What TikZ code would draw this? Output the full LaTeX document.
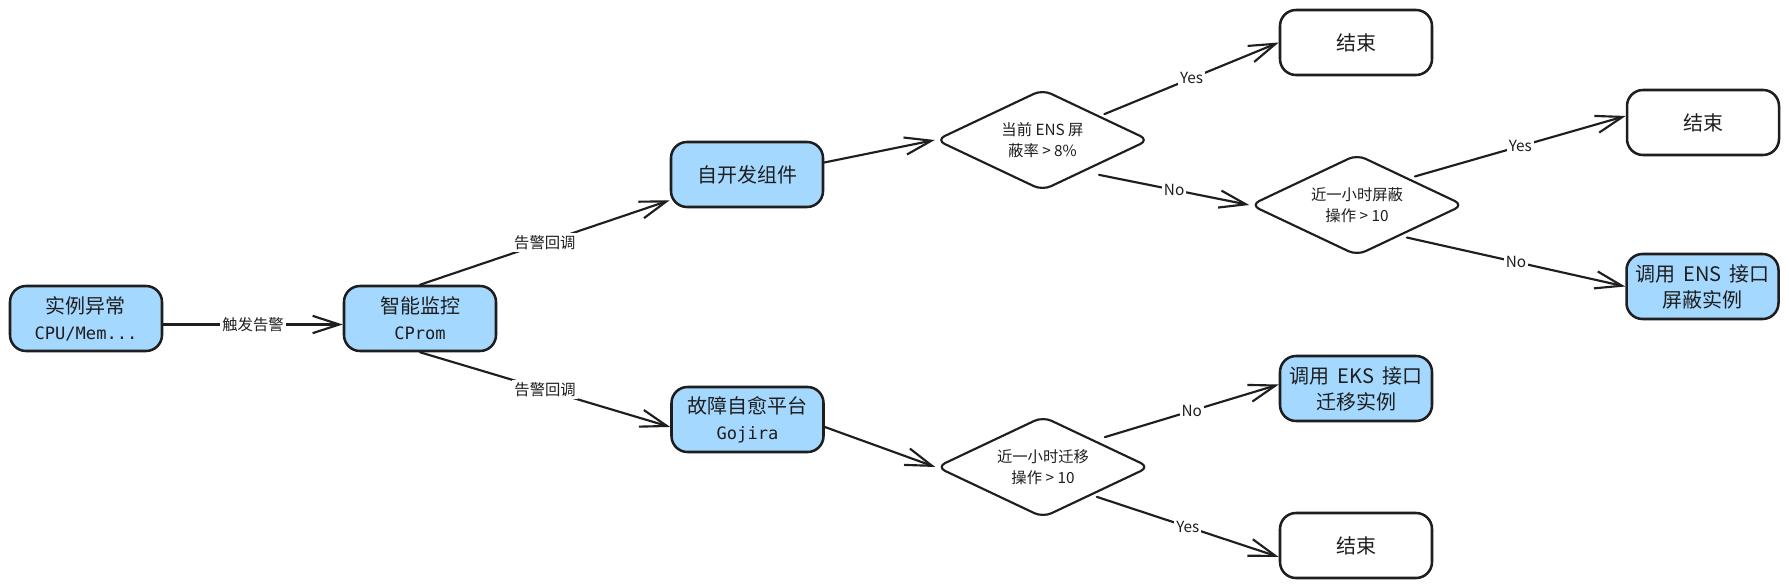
\documentclass[tikz,border=0pt]{standalone}
\usepackage{fontspec}
\setmainfont{Noto Sans CJK SC}
\newfontfamily\monof{DejaVu Sans Mono}
\usetikzlibrary{arrows.meta,shapes.geometric}
\definecolor{ink}{HTML}{1E1E1E}
\definecolor{lblue}{HTML}{A5D8FF}
\tikzset{
  x=0.75pt, y=-0.75pt,
  box/.style={draw=ink, line width=1.9pt, rounded corners=12pt, minimum width=114pt,
    minimum height=48.75pt, align=center, inner sep=2pt,
    font=\fontsize{15pt}{19.5pt}\selectfont, text=ink},
  bluebox/.style={box, fill=lblue},
  endbox/.style={box},
  decide/.style={draw=ink, line width=1.6pt, shape=diamond, aspect=2, rounded corners=7pt,
    inner sep=0pt, minimum width=160pt, minimum height=76pt, align=center,
    font=\fontsize{11.5pt}{15.6pt}\selectfont, text=ink},
  conn/.style={draw=ink, line width=1.6pt, line cap=round,
    -{Straight Barb[length=20pt, width=13pt, line width=1.6pt]}},
  lbl/.style={fill=white, inner sep=1.5pt, text=ink, font=\fontsize{11.5pt}{13pt}\selectfont},
  mono/.style={},
}
\newcommand{\mtext}[1]{{\monof\fontsize{12.8pt}{19.5pt}\selectfont #1}}
\begin{document}
\begin{tikzpicture}
\fill[white] (0,0) rectangle (1789,588);
\useasboundingbox (0,0) rectangle (1789,588);

\node[bluebox] (e1) at (86,318.5) {实例异常\\\mtext{CPU/Mem...}};
\node[bluebox] (e2) at (420,318.5) {智能监控\\\mtext{CProm}};
\node[bluebox] (self) at (747,174.5) {自开发组件};
\node[bluebox] (gj) at (747.5,419.5) {故障自愈平台\\\mtext{Gojira}};

\node[decide] (d1) at (1042.5,140) {当前 ENS 屏\\蔽率 > 8\%};
\node[decide] (d2) at (1357,205) {近一小时屏蔽\\操作 > 10};
\node[decide] (d3) at (1043,467) {近一小时迁移\\操作 > 10};

\node[endbox] (end1) at (1356,42.5) {结束};
\node[endbox] (end2) at (1703,122.5) {结束};
\node[bluebox] (ens) at (1702.5,286.5) {调用 \,ENS\, 接口\\屏蔽实例};
\node[bluebox] (eks) at (1356,388.5) {调用 \,EKS\, 接口\\迁移实例};
\node[endbox] (end3) at (1356,545.5) {结束};

\draw[conn] ([yshift=-4.5pt]e1.east) -- ([yshift=-4.5pt]e2.west) node[lbl, midway] {触发告警};
\draw[conn] (e2.north) -- ([yshift=6pt]self.south west) node[lbl, midway] {告警回调};
\draw[conn] (e2.south) -- ([yshift=-5.6pt]gj.west) node[lbl, midway] {告警回调};
\draw[conn] ([yshift=9pt]self.east) -- (d1.west);
\draw[conn] ([xshift=6pt]d1.north east) -- (end1.west) node[lbl, midway] {Yes};
\draw[conn] ([xshift=2pt,yshift=-6.75pt]d1.south east) -- (d2.west) node[lbl, midway] {No};
\draw[conn] ([xshift=3pt,yshift=2pt]d2.north east) -- ([yshift=4.9pt]end2.west) node[lbl, midway] {Yes};
\draw[conn] ([xshift=-3pt,yshift=-5pt]d2.south east) -- (ens.west) node[lbl, midway] {No};
\draw[conn] ([yshift=-5.6pt]gj.east) -- (d3.west);
\draw[conn] ([xshift=6pt,yshift=3pt]d3.north east) -- ([yshift=3pt]eks.west) node[lbl, midway] {No};
\draw[conn] ([yshift=-3pt]d3.south east) -- ([yshift=-8.6pt]end3.west) node[lbl, midway] {Yes};
\end{tikzpicture}
\end{document}
